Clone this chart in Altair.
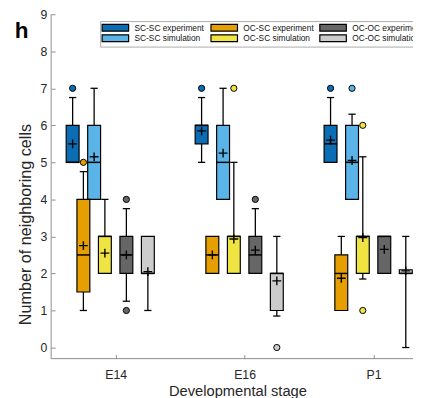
import altair as alt
import pandas as pd

# ---------------- data ----------------
stages = ["E14", "E16", "P1"]
series = ["SC-SC experiment", "SC-SC simulation", "OC-SC experiment",
          "OC-SC simulation", "OC-OC experiment", "OC-OC simulation"]
colors = ["#0b6eb4", "#5ab4e8", "#e69f00", "#f0e442", "#666666", "#cccccc"]

# per series: values for [E14, E16, P1]
q1 = {"SC-SC experiment": [5, 5.5, 5], "OC-SC experiment": [1.5, 2, 1],
      "OC-OC experiment": [2, 2, 2], "SC-SC simulation": [4, 4, 4],
      "OC-SC simulation": [2, 2, 2], "OC-OC simulation": [2, 1, 2]}
median = {"SC-SC experiment": [5, 6, 5.5], "OC-SC experiment": [2.5, 2.5, 2],
          "OC-OC experiment": [2.5, 2.5, 3], "SC-SC simulation": [5, 5, 5],
          "OC-SC simulation": [3, 3, 3], "OC-OC simulation": [2, 2, 2]}
q3 = {"SC-SC experiment": [6, 6, 6], "OC-SC experiment": [4, 3, 2.5],
      "OC-OC experiment": [3, 3, 3], "SC-SC simulation": [6, 6, 6],
      "OC-SC simulation": [3, 3, 3], "OC-OC simulation": [3, 2, 2.1]}
whisker_low = {"SC-SC experiment": [5, 5, 5], "OC-SC experiment": [1, 2, 1],
               "OC-OC experiment": [1.25, 2, 2], "SC-SC simulation": [4, 4, 4],
               "OC-SC simulation": [2, 2, 1.85], "OC-OC simulation": [1, 0.85, 0]}
whisker_high = {"SC-SC experiment": [6.75, 6.75, 6.75], "OC-SC experiment": [4.75, 3, 3],
                "OC-OC experiment": [3.75, 3.75, 3], "SC-SC simulation": [7, 7, 6.3],
                "OC-SC simulation": [4, 5, 5.15], "OC-OC simulation": [3, 3, 3]}
mean = {"SC-SC experiment": [5.5, 5.85, 5.6], "OC-SC experiment": [2.75, 2.5, 1.87],
        "OC-OC experiment": [2.5, 2.63, 2.65], "SC-SC simulation": [5.15, 5.25, 5.05],
        "OC-SC simulation": [2.55, 2.93, 2.97], "OC-OC simulation": [2.05, 1.8, 2.07]}
outliers = {"SC-SC experiment": [[7], [7], [7]], "OC-SC experiment": [[5], [], []],
            "OC-OC experiment": [[1, 4], [4], []], "SC-SC simulation": [[], [], [7]],
            "OC-SC simulation": [[], [7], [6, 1]], "OC-OC simulation": [[], [0], []]}

# ---------------- layout (positions within each stage) ----------------
offset = {"SC-SC experiment": -1 / 3, "OC-SC experiment": -1 / 4,
          "SC-SC simulation": -1 / 6, "OC-SC simulation": -1 / 12,
          "OC-OC experiment": 1 / 12, "OC-OC simulation": 1 / 4}
half_box = 0.05
half_cap = 0.028

rows, out_rows = [], []
for s, col in zip(series, colors):
    for i, st in enumerate(stages):
        x = i + 1 + offset[s]
        rows.append(dict(series=s, stage=st, x=x, xl=x - half_box, xr=x + half_box,
                         cl=x - half_cap, cr=x + half_cap,
                         q1=q1[s][i], med=median[s][i], q3=q3[s][i],
                         wlo=whisker_low[s][i], whi=whisker_high[s][i], mean=mean[s][i]))
        for v in outliers[s][i]:
            out_rows.append(dict(series=s, x=x, y=v, color=col))
df = pd.DataFrame(rows)
dfo = pd.DataFrame(out_rows)

X0, X1 = 0.5, 3.306
Y0, Y1 = -0.3, 9
xs = alt.Scale(domain=[X0, X1], nice=False, zero=False)
ys = alt.Scale(domain=[Y0, Y1], nice=False, zero=False)

x_axis = alt.Axis(values=[1, 2, 3], labelExpr="['','E14','E16','P1'][datum.value]",
                  title="Developmental stage", offset=-4, tickSize=4, domain=False,
                  labelPadding=10, titlePadding=3, titleX=190, labelOverlap=False,
                  titleFontSize=15)
y_axis = alt.Axis(values=list(range(10)), title="Number of neighboring cells",
                  offset=-4, tickSize=4, domain=False, labelPadding=4.5,
                  titleX=-30, titleY=214, titleBaseline="middle", labelOverlap=False,
                  titleFontSize=16.5)


def X(f):
    return alt.X(f"{f}:Q", scale=xs, axis=x_axis)


def Y(f):
    return alt.Y(f"{f}:Q", scale=ys, axis=y_axis)


base = alt.Chart(df)
rule_kw = dict(color="black", strokeWidth=1.3)

w_low = base.transform_filter("datum.wlo < datum.q1").mark_rule(**rule_kw).encode(
    x=X("x"), y=Y("wlo"), y2="q1:Q")
w_high = base.transform_filter("datum.whi > datum.q3").mark_rule(**rule_kw).encode(
    x=X("x"), y=Y("q3"), y2="whi:Q")
cap_low = base.transform_filter("datum.wlo < datum.q1").mark_rule(**rule_kw).encode(
    x=X("cl"), x2="cr:Q", y=Y("wlo"))
cap_high = base.transform_filter("datum.whi > datum.q3").mark_rule(**rule_kw).encode(
    x=X("cl"), x2="cr:Q", y=Y("whi"))

legend = alt.Legend(
    title=None, orient="none", legendX=50, legendY=7, columns=3, gridAlign="all",
    direction="vertical",
    symbolType="M-3.86,-1H3.86V1H-3.86Z", symbolSize=49, symbolOffset=9,
    symbolStrokeColor="black", symbolStrokeWidth=1.2,
    labelFont="Liberation Sans", labelFontSize=8.5, labelColor="#111111",
    labelOffset=15, columnPadding=2, rowPadding=-2, padding=2,
    strokeColor="#aaaaaa", fillColor="white")

dash_range = [[1, 0] if "experiment" in s else [1.6, 1.4] for s in series]
boxes = base.mark_rect(stroke="black", strokeWidth=1.2).encode(
    x=X("xl"), x2="xr:Q", y=Y("q1"), y2="q3:Q",
    fill=alt.Fill("series:N", scale=alt.Scale(domain=series, range=colors), legend=legend),
    strokeDash=alt.StrokeDash("series:N", scale=alt.Scale(domain=series, range=dash_range),
                              legend=legend),
)
med = base.mark_rule(color="black", strokeWidth=1.5).encode(
    x=X("xl"), x2="xr:Q", y=Y("med"))
mn = base.mark_point(shape="M-1,0H1M0,-1V1", filled=False, stroke="black",
                     strokeWidth=1.4, size=81, opacity=1).encode(
    x=X("x"), y=Y("mean"))
outl = alt.Chart(dfo).mark_point(shape="circle", filled=True, stroke="black",
                                 strokeWidth=1, size=40, opacity=1).encode(
    x=X("x"), y=Y("y"), fill=alt.Fill("color:N", scale=None))

axis_lines = alt.Chart(pd.DataFrame({"a": [0]})).mark_rule(color="#8c8c8c", strokeWidth=1)
y_line = axis_lines.encode(x=alt.datum(X0, scale=xs, axis=x_axis))
x_line = axis_lines.encode(y=alt.datum(Y0, scale=ys, axis=y_axis))

panel = alt.Chart(pd.DataFrame({"t": ["h"]})).mark_text(
    font="Liberation Sans", fontSize=23, fontWeight="bold", align="left",
    baseline="alphabetic", color="black").encode(
    text="t:N", x=alt.value(-37), y=alt.value(24.7))

chart = alt.layer(w_low, w_high, cap_low, cap_high, boxes, med, mn, outl,
                  y_line, x_line, panel).properties(
    width=369, height=351.2,
    padding={"left": 44, "top": 2.5, "right": 0, "bottom": 36.3},
    autosize=alt.AutoSizeParams(type="none"),
).configure_view(stroke=None).configure_axis(
    grid=False, labelFont="Liberation Sans", labelFontSize=12.5, labelColor="#262626",
    titleFont="Liberation Sans", titleFontWeight="normal",
    titleColor="#262626", tickColor="#8c8c8c", tickWidth=1,
)

chart.save("out.html", embed_options={"renderer": "svg", "actions": False})
